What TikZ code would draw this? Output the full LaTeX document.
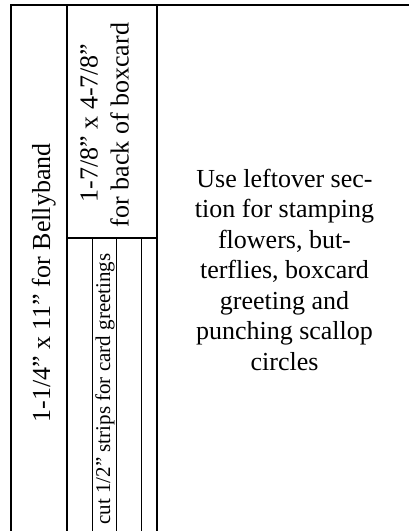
\documentclass[tikz,border=0pt]{standalone}
\usepackage{fontspec}
\setmainfont{Liberation Serif}

\begin{document}
\begin{tikzpicture}[x=1pt,y=-1pt,
    cutline/.style={line width=1.3pt},
    stripline/.style={line width=0.8pt},
    bigtext/.style={inner sep=0pt,font=\fontsize{26}{30.5}\selectfont},
    smalltext/.style={inner sep=0pt,font=\fontsize{21}{25}\selectfont}]
					\useasboundingbox (0,0) rectangle (409,531);
					%Sheet edges
					\draw[cutline] (11,531)--(11,5)--(409,5);
					\draw[cutline] (67,5)--(67,531);
					\draw[cutline] (157,5)--(157,531);
					%Boxcard back
					\draw[cutline] (67,238)--(157,238);
					%Strips
					\draw[stripline] (92,238)--(92,531);
					\draw[stripline] (116,238)--(116,531);
					\draw[stripline] (141,238)--(141,531);
					%Labels
					\node[bigtext,rotate=90,anchor=base] (belly) at (50,283) {1-1/4” x 11” for Bellyband};
					\node[bigtext,rotate=90,anchor=base] (boxsize) at (97.5,123) {1-7/8” x 4-7/8”};
					\node[bigtext,rotate=90,anchor=base] (boxback) at (128.5,125) {for back of boxcard};
					\node[smalltext,rotate=90,anchor=base] (strips) at (110,389) {cut 1/2” strips for card greetings};
					\node[bigtext,align=center] (leftover) at (284.5,269.5) {Use leftover sec-\\tion for stamping\\flowers, but-\\terflies, boxcard\\greeting and\\punching scallop\\circles};
					\end{tikzpicture}
\end{document}
